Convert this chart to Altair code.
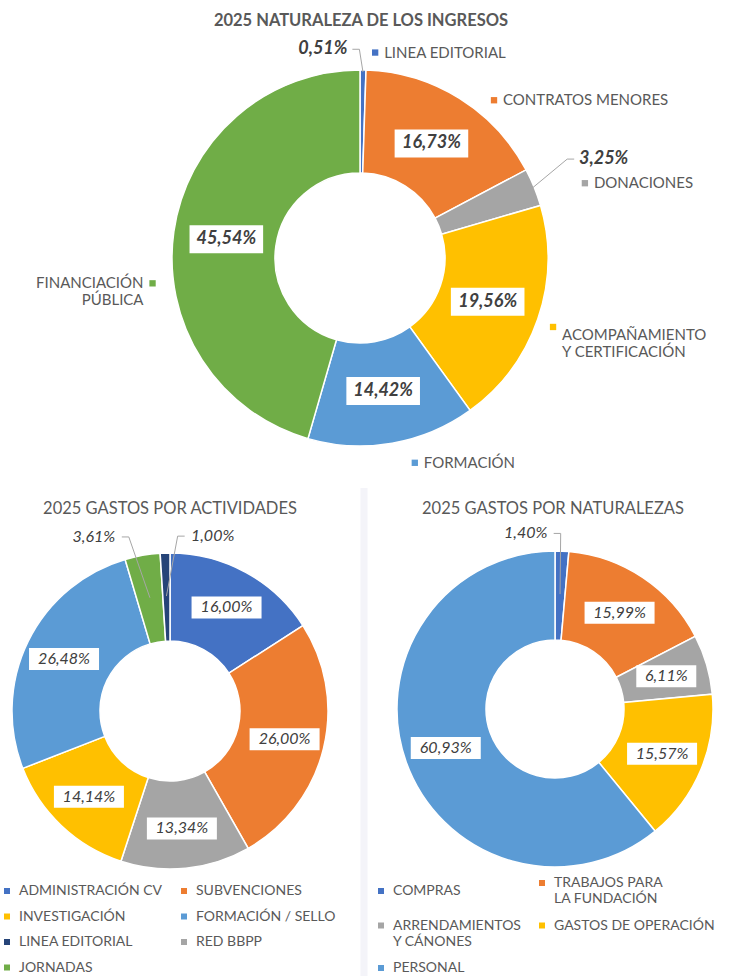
import altair as alt
import pandas as pd

FONT = "Lato"
GREY_TXT = "#595959"
VAL_TXT = "#404040"
LEADER = "#A6A6A6"
W, H = 731, 976

# ---------------- data ----------------
ing_title = "2025 NATURALEZA DE LOS INGRESOS"
ing_cats = ["LINEA EDITORIAL", "CONTRATOS MENORES", "DONACIONES",
            "ACOMPAÑAMIENTO\nY CERTIFICACIÓN", "FORMACIÓN", "FINANCIACIÓN\nPÚBLICA"]
ing_vals = [0.51, 16.73, 3.25, 19.56, 14.42, 45.54]
ing_colors = ["#4472C4", "#ED7D31", "#A5A5A5", "#FFC000", "#5B9BD5", "#70AD47"]

act_title = "2025 GASTOS POR ACTIVIDADES"
act_cats = ["ADMINISTRACIÓN CV", "SUBVENCIONES", "RED BBPP", "INVESTIGACIÓN",
            "FORMACIÓN / SELLO", "JORNADAS", "LINEA EDITORIAL"]
act_vals = [16.00, 26.00, 13.34, 14.14, 26.48, 3.61, 1.00]
act_colors = ["#4472C4", "#ED7D31", "#A5A5A5", "#FFC000", "#5B9BD5", "#70AD47", "#264478"]
act_legend = ["ADMINISTRACIÓN CV", "SUBVENCIONES", "INVESTIGACIÓN", "FORMACIÓN / SELLO",
              "LINEA EDITORIAL", "RED BBPP", "JORNADAS"]

nat_title = "2025 GASTOS POR NATURALEZAS"
nat_cats = ["COMPRAS", "TRABAJOS PARA\nLA FUNDACIÓN", "ARRENDAMIENTOS\nY CÁNONES",
            "GASTOS DE OPERACIÓN", "PERSONAL"]
nat_vals = [1.40, 15.99, 6.11, 15.57, 60.93]
nat_colors = ["#4472C4", "#ED7D31", "#A5A5A5", "#FFC000", "#5B9BD5"]
nat_legend = nat_cats

# ---------------- label layout (placement only) ----------------
# value labels placed outside the ring: category -> (radius px, angle nudge deg)
ing_out = {"LINEA EDITORIAL": (212, -11), "DONACIONES": (263, 0)}
act_out = {"JORNADAS": (190, -13.6), "LINEA EDITORIAL": (180, 15.5)}
nat_out = {"COMPRAS": (178, -12)}
# category name labels of the top chart: category -> (radius, angle nudge deg, side)
ing_names = {
    "LINEA EDITORIAL": (206, 3.3, 1),
    "CONTRATOS MENORES": (207, 8.4, 1),
    "DONACIONES": (237, 3.7, 1),
    "ACOMPAÑAMIENTO\nY CERTIFICACIÓN": (205, 0.7, 1),
    "FORMACIÓN": (212, -5.1, 1),
    "FINANCIACIÓN\nPÚBLICA": (209, -15, -1),
}


def frame(cats, vals, out, inner_label_r, names=None):
    df = pd.DataFrame({"cat": cats, "value": vals, "order": list(range(len(cats)))})
    df["outside"] = [c in out for c in cats]
    df["vr"] = [out[c][0] if c in out else inner_label_r for c in cats]
    df["vn"] = [out[c][1] if c in out else 0 for c in cats]
    if names:
        df["lr"] = [names[c][0] for c in cats]
        df["ln"] = [names[c][1] for c in cats]
        df["side"] = [names[c][2] for c in cats]
    return df


def donut(df, cx, cy, ri, ro, leader_r, domain, rng, legend, vsize, vweight,
          cw, bh, bpad, names=False):
    scale = alt.Scale(domain=domain, range=rng)
    arc = alt.Chart(df).mark_arc(innerRadius=ri, outerRadius=ro, stroke="white",
                                 strokeWidth=1.5).encode(
        theta=alt.Theta("value:Q", stack=True),
        order=alt.Order("order:Q", sort="ascending"),
        color=alt.Color("cat:N", scale=scale, legend=legend),
        x=alt.value(cx), y=alt.value(cy),
    )
    base = (alt.Chart(df)
            .transform_joinaggregate(total="sum(value)")
            .transform_window(cum="sum(value)", sort=[alt.SortField("order", order="ascending")],
                              frame=[None, 0])
            .transform_calculate(mid="(datum.cum - datum.value / 2) / datum.total * 2 * PI"))
    vals = (base
            .transform_calculate(va="datum.mid + datum.vn * PI / 180")
            .transform_calculate(vx=f"{cx} + datum.vr * sin(datum.va)")
            .transform_calculate(vy=f"{cy} - datum.vr * cos(datum.va)")
            .transform_calculate(lbl="replace(format(datum.value, '.2f'), '.', ',') + '%'")
            .transform_calculate(hw=f"length(datum.lbl) * {cw} / 2"))
    boxes = (vals.transform_filter("!datum.outside")
             .transform_calculate(bx1=f"datum.vx - datum.hw - {bpad}")
             .transform_calculate(bx2=f"datum.vx + datum.hw + {bpad}")
             .transform_calculate(by1=f"datum.vy - {bh / 2}")
             .transform_calculate(by2=f"datum.vy + {bh / 2}")
             .mark_rect(color="white")
             .encode(x=alt.X("bx1:Q", scale=None), x2="bx2:Q",
                     y=alt.Y("by1:Q", scale=None), y2="by2:Q"))
    lead = (vals.transform_filter("datum.outside")
            .transform_calculate(sx=f"{cx} + {leader_r} * sin(datum.mid)")
            .transform_calculate(sy=f"{cy} - {leader_r} * cos(datum.mid)")
            .transform_calculate(sd="datum.sx > datum.vx ? 1 : -1")
            .transform_calculate(hx="datum.vx + datum.sd * (datum.hw + 3)")
            .transform_calculate(ex="datum.hx + datum.sd * 7"))
    hook = lead.mark_rule(color=LEADER, strokeWidth=1).encode(
        x=alt.X("hx:Q", scale=None), x2="ex:Q", y=alt.Y("vy:Q", scale=None))
    line = lead.mark_rule(color=LEADER, strokeWidth=1).encode(
        x=alt.X("ex:Q", scale=None), x2="sx:Q", y=alt.Y("vy:Q", scale=None), y2="sy:Q")
    vtext = vals.mark_text(font=FONT, fontSize=vsize, fontStyle="italic", fontWeight=vweight,
                           color=VAL_TXT, baseline="middle", align="center").encode(
        x=alt.X("vx:Q", scale=None), y=alt.Y("vy:Q", scale=None), text="lbl:N")
    layers = [arc, line, hook, boxes, vtext]
    if names:
        nm = (base
              .transform_calculate(ca="datum.mid + datum.ln * PI / 180")
              .transform_calculate(mx=f"{cx} + datum.lr * sin(datum.ca)")
              .transform_calculate(my=f"{cy} - datum.lr * cos(datum.ca)"))
        marker = nm.mark_square(size=40, opacity=1).encode(
            x=alt.X("mx:Q", scale=None), y=alt.Y("my:Q", scale=None),
            color=alt.Color("cat:N", scale=scale, legend=None))
        txt_kw = dict(font=FONT, fontSize=15, color=GREY_TXT, baseline="middle",
                      lineBreak="\n", lineHeight=17)
        name_l = (nm.transform_filter("datum.side > 0")
                  .transform_calculate(tx="datum.mx + 9")
                  .transform_calculate(ty="datum.my + (length(split(datum.cat, '\\n')) - 1) * 8.5")
                  .mark_text(align="left", **txt_kw)
                  .encode(x=alt.X("tx:Q", scale=None), y=alt.Y("ty:Q", scale=None), text="cat:N"))
        name_r = (nm.transform_filter("datum.side < 0")
                  .transform_calculate(tx="datum.mx - 9")
                  .mark_text(align="right", **txt_kw)
                  .encode(x=alt.X("tx:Q", scale=None), y=alt.Y("my:Q", scale=None), text="cat:N"))
        layers += [marker, name_l, name_r]
    return alt.layer(*layers)


def title(text, x, y, weight):
    return alt.Chart(pd.DataFrame({"t": [text]})).mark_text(
        font=FONT, fontSize=16.5, fontWeight=weight, color=GREY_TXT, align="center",
        baseline="middle").encode(text="t:N", x=alt.value(x), y=alt.value(y))


def legend(x, y, row_pad):
    return alt.Legend(orient="none", legendX=x, legendY=y, columns=2, direction="horizontal",
                      title=None, symbolType="square", symbolSize=36, symbolStrokeWidth=0,
                      labelFont=FONT, labelFontSize=14, labelColor=GREY_TXT, labelLimit=400,
                      rowPadding=row_pad, columnPadding=14, labelOffset=5,
                      labelExpr="split(datum.label, '\\n')")


ing_df = frame(ing_cats, ing_vals, ing_out, 135, ing_names)
act_df = frame(act_cats, act_vals, act_out, 118)
nat_df = frame(nat_cats, nat_vals, nat_out, 116)

act_map = dict(zip(act_cats, act_colors))
nat_map = dict(zip(nat_cats, nat_colors))

top = donut(ing_df, 360, 258, 85, 188, 186, ing_cats, ing_colors, None,
            18, "bold", 10.6, 28, 5, names=True)
left = donut(act_df, 170, 711, 70, 158, 115, act_legend, [act_map[c] for c in act_legend],
             legend(0, 884, 11.5), 16, "normal", 10.0, 22, 5)
right = donut(nat_df, 555, 709, 69, 158, 115, nat_legend, [nat_map[c] for c in nat_legend],
              legend(374, 876, 12.5), 16, "normal", 10.0, 22, 5)

sep = alt.Chart(pd.DataFrame({"k": [0]})).mark_rule(color="#F4F4F9", strokeWidth=7).encode(
    x=alt.value(364), y=alt.value(488), y2=alt.value(H))

chart = (alt.layer(sep, title(ing_title, 361, 21, "bold"),
                   title(act_title, 170, 509, "normal"),
                   title(nat_title, 553, 509, "normal"),
                   top, left, right)
         .resolve_scale(theta="independent", color="independent")
         .resolve_legend(color="independent")
         .properties(width=W, height=H, padding=0, background="white",
                     autosize=alt.AutoSizeParams(type="none"))
         .configure_view(stroke=None))

chart.save("out.html", embed_options={"renderer": "svg", "actions": False})
